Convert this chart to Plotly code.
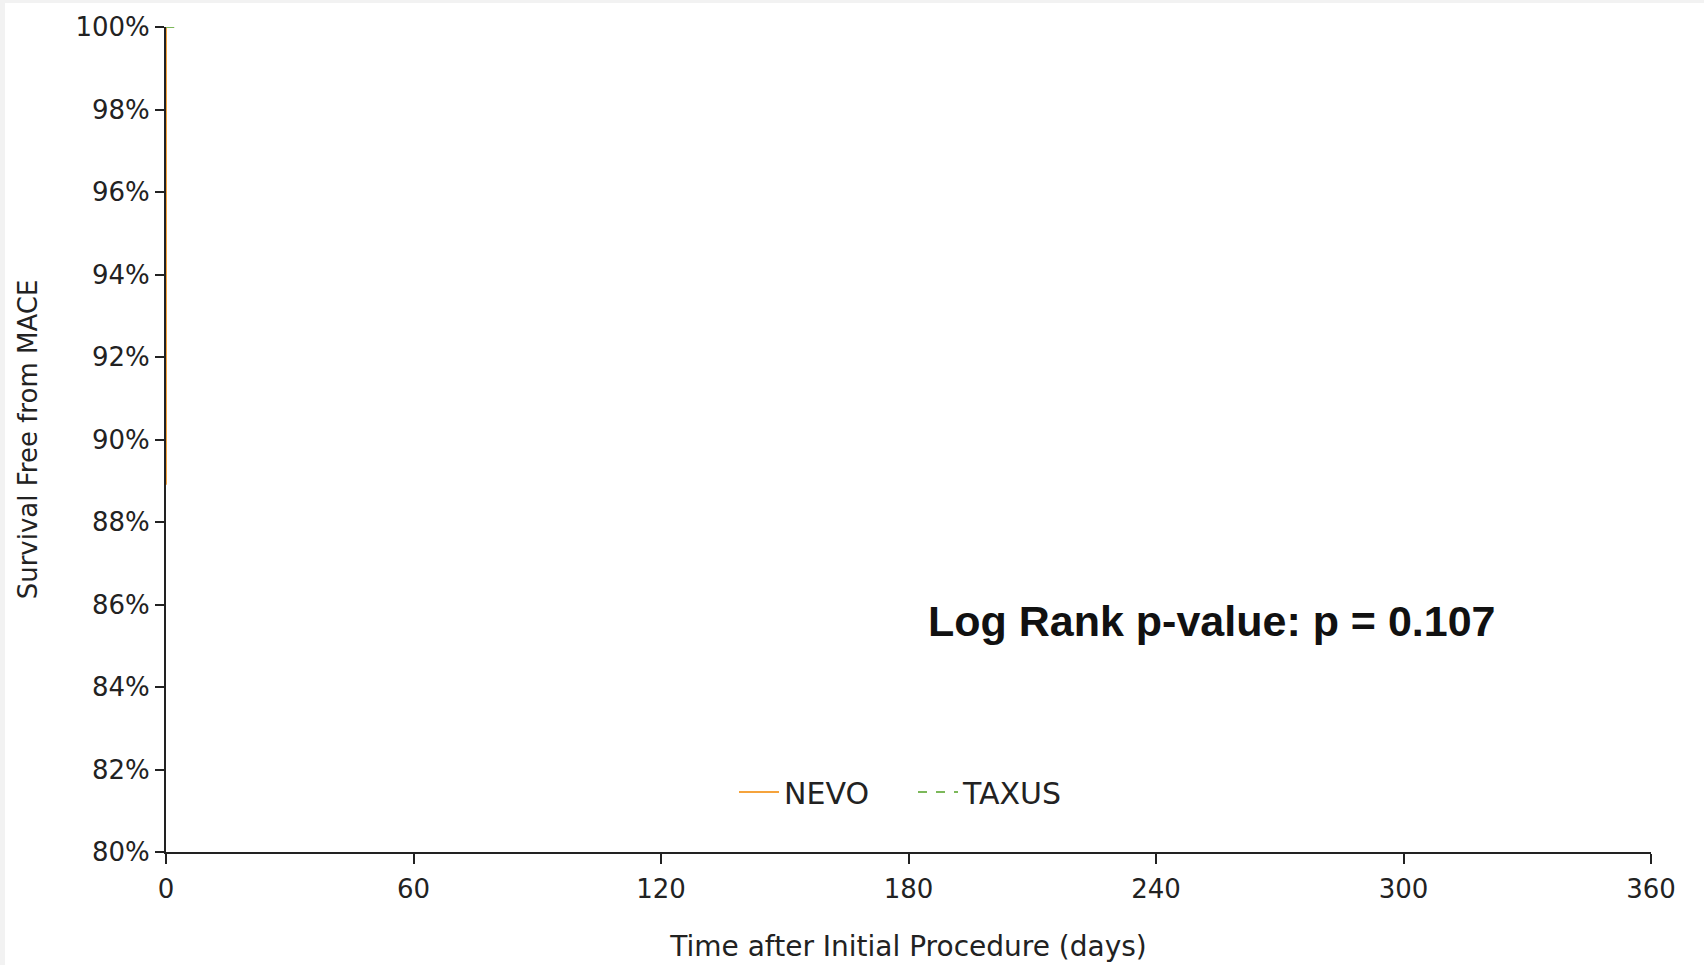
import plotly.graph_objects as go

# Kaplan-Meier estimates (time in days, survival in %)
nevo_days = [0, 0]
nevo_surv = [100, 88.9]
taxus_days = [0, 2.0]
taxus_surv = [100, 100]

x_ticks = [0, 60, 120, 180, 240, 300, 360]
y_ticks = [80, 82, 84, 86, 88, 90, 92, 94, 96, 98, 100]
y_tick_labels = [f"{v}%" for v in y_ticks]

p_value_text = "Log Rank p-value: p = 0.107"

W, H = 1704, 965
ML, MR, MT, MB = 166, 53, 27, 113
PW, PH = W - ML - MR, H - MT - MB

fig = go.Figure()
fig.add_trace(go.Scatter(
    x=nevo_days, y=nevo_surv, mode="lines", name="NEVO",
    line=dict(color="#f5a33c", width=2), cliponaxis=False,
))
fig.add_trace(go.Scatter(
    x=taxus_days, y=taxus_surv, mode="lines", name="TAXUS",
    line=dict(color="#7cb85a", width=2, dash="dash"), cliponaxis=False,
))

tick_font = dict(family="DejaVu Sans", size=26, color="#222222")

fig.update_xaxes(
    range=[0, 360], tickvals=x_ticks, showgrid=False, zeroline=False,
    showline=True, linecolor="#222222", linewidth=2, automargin=False,
    ticks="outside", ticklen=10, tickwidth=2, tickcolor="#222222",
    tickfont=tick_font, ticklabelstandoff=3,
    title=dict(text="Time after Initial Procedure (days)",
               font=dict(family="DejaVu Sans", size=28, color="#222222"), standoff=33),
)
fig.update_yaxes(
    range=[80, 100], tickvals=y_ticks, ticktext=y_tick_labels,
    showgrid=False, zeroline=False, automargin=False,
    showline=True, linecolor="#222222", linewidth=2,
    ticks="outside", ticklen=9, tickwidth=2, tickcolor="#222222",
    tickfont=tick_font,
    title=dict(text="Survival Free from MACE",
               font=dict(family="DejaVu Sans", size=26, color="#222222"), standoff=30),
)

fig.add_annotation(
    x=184.2, y=85.6, xref="x", yref="y", text=p_value_text, showarrow=False,
    xanchor="left", yanchor="middle",
    font=dict(family="Liberation Sans", size=43, color="#111111", weight="bold"),
)

# white chart area inside the light grey page frame
fig.add_shape(
    type="rect", xref="paper", yref="paper", layer="below",
    x0=(5 - ML) / PW, x1=(W - ML) / PW + 0.01,
    y0=-(MB + 5) / PH, y1=(PH + MT - 3) / PH,
    fillcolor="white", line=dict(width=0),
)

fig.update_layout(
    width=W, height=H,
    margin=dict(l=ML, r=MR, t=MT, b=MB),
    paper_bgcolor="#f2f2f2", plot_bgcolor="white",
    showlegend=True,
    legend=dict(
        orientation="h", x=(734 - ML) / PW, xanchor="left",
        y=(852 - 792) / PH, yanchor="middle",
        font=dict(family="DejaVu Sans", size=30, color="#222222"),
        bgcolor="rgba(0,0,0,0)", entrywidth=124, entrywidthmode="pixels",
        itemwidth=40,
    ),
)

fig.write_html("out.html")
